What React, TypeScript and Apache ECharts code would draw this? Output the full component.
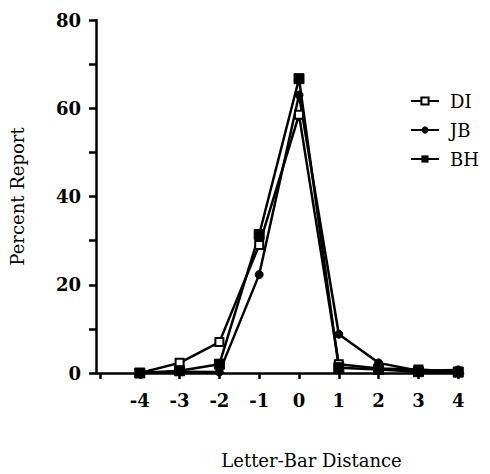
import React, { useEffect, useRef } from "react";
import * as echarts from "echarts";

const distances = [-4, -3, -2, -1, 0, 1, 2, 3, 4];
const xTickValues = [-5, -4, -3, -2, -1, 0, 1, 2, 3, 4];
const xLabelValues = [-4, -3, -2, -1, 0, 1, 2, 3, 4];
const seriesNames = ["DI", "JB", "BH"];
const diValues = [0, 2.3, 7, 29, 58.5, 2, 1, 0.8, 0.3];
const jbValues = [0, 0.3, 0.2, 22.3, 63, 8.8, 2.3, 0.5, 0.7];
const bhValues = [0, 0.5, 2, 31.4, 66.7, 1.2, 0.8, 0.3, 0.2];

const FONT = "DejaVu Serif";

export default function App() {
  const ref = useRef<HTMLDivElement>(null);
  useEffect(() => {
    if (!ref.current) return;
    const chart = echarts.init(ref.current, undefined, { renderer: "svg" });
    const pair = (vals: number[]) => distances.map((d, i) => [d, vals[i]]);
    const lineBase = {
      type: "line" as const,
      lineStyle: { color: "#000", width: 2.5 },
      itemStyle: { color: "#000", borderColor: "#000" },
      z: 3,
    };
    chart.setOption({
      animation: false,
      backgroundColor: "#fff",
      grid: { left: 96, right: 27, top: 20, bottom: 100 },
      legend: {
        orient: "vertical",
        left: 405,
        top: 87,
        itemWidth: 28,
        itemHeight: 9,
        itemGap: 11,
        data: seriesNames,
        textStyle: { fontFamily: FONT, fontSize: 18, color: "#000", padding: [0, 0, 0, 6] },
      },
      xAxis: {
        type: "value",
        min: -5.1,
        max: 4.12,
        name: "Letter-Bar Distance",
        nameLocation: "middle",
        nameGap: 78,
        nameTextStyle: { fontFamily: FONT, fontSize: 18, color: "#000", padding: [0, 0, 0, 64] },
        axisLine: { onZero: false, lineStyle: { color: "#000", width: 2.5 } },
        axisTick: { show: true, length: 6, lineStyle: { color: "#000", width: 2.5 }, customValues: xTickValues },
        axisLabel: { fontFamily: FONT, fontSize: 18, fontWeight: "bold", color: "#000", margin: 18, customValues: xLabelValues },
        splitLine: { show: false },
      },
      yAxis: {
        type: "value",
        position: "left",
        min: 0,
        max: 80,
        interval: 10,
        name: "Percent Report",
        nameLocation: "middle",
        nameGap: 70,
        nameTextStyle: { fontFamily: FONT, fontSize: 18, color: "#000" },
        axisLine: { show: true, onZero: false, lineStyle: { color: "#000", width: 2.5 } },
        axisTick: { show: true, length: 7, lineStyle: { color: "#000", width: 2.5 } },
        axisLabel: {
          fontFamily: FONT,
          fontSize: 18,
          fontWeight: "bold",
          color: "#000",
          margin: 15,
          formatter: (v: number) => (v % 20 === 0 ? String(v) : ""),
        },
        splitLine: { show: false },
      },
      series: [
        {
          ...lineBase,
          name: "DI",
          data: pair(diValues),
          symbol: "rect",
          symbolSize: 8,
          itemStyle: { color: "#fff", borderColor: "#000", borderWidth: 2 },
        },
        {
          ...lineBase,
          name: "JB",
          data: pair(jbValues),
          symbol: "circle",
          symbolSize: 8,
        },
        {
          ...lineBase,
          name: "BH",
          data: pair(bhValues),
          symbol: "rect",
          symbolSize: 10,
        },
      ],
    });
    return () => chart.dispose();
  }, []);
  return (
    <div
      ref={ref}
      style={{ position: "absolute", left: 0, top: 0, width: 490, height: 474, background: "#fff" }}
    />
  );
}
